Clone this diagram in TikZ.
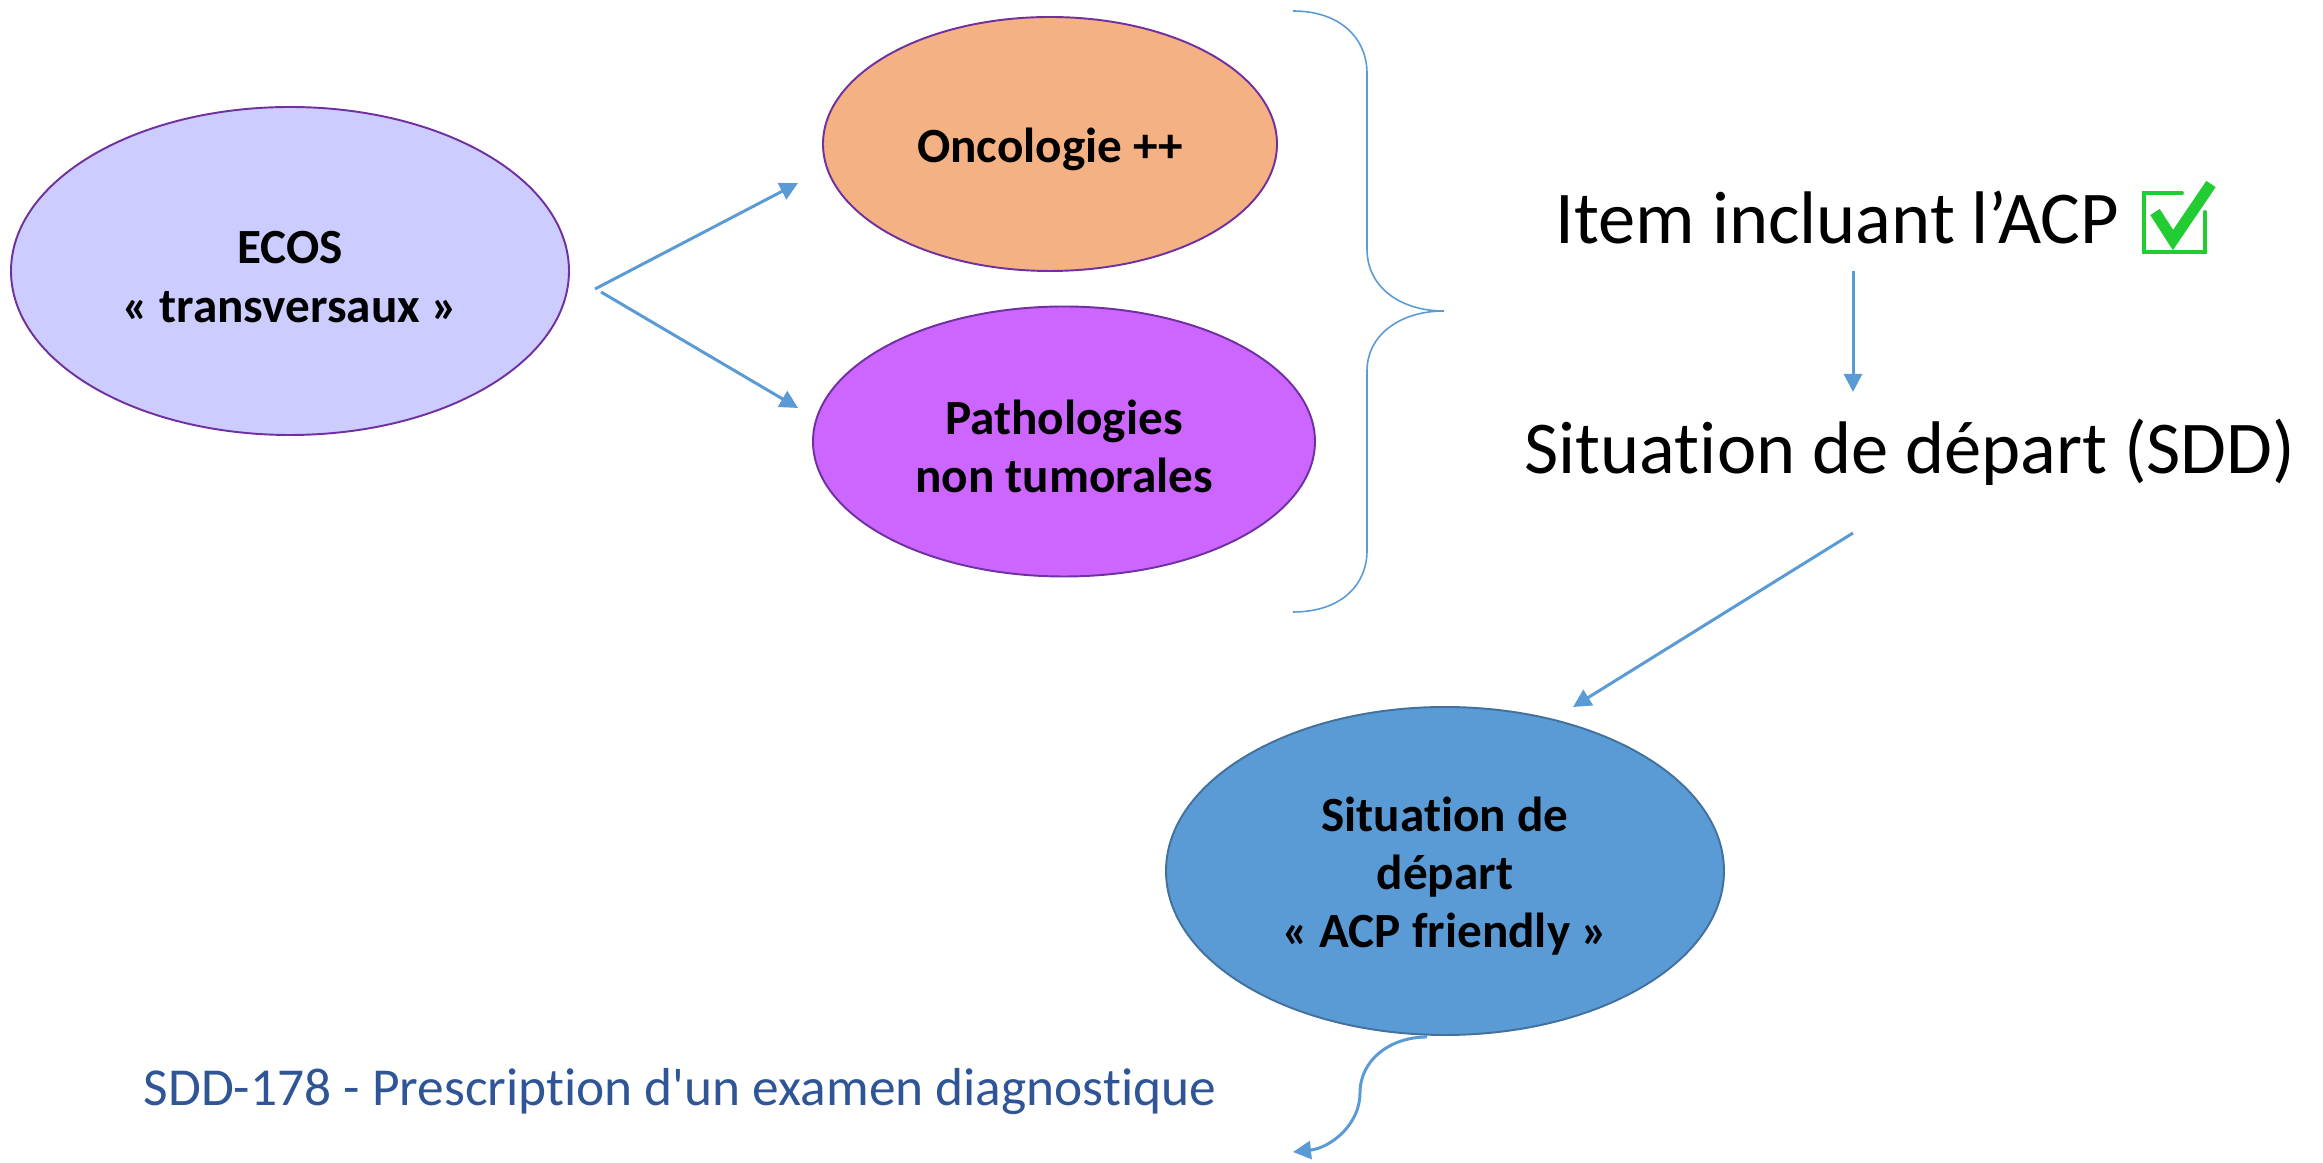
\documentclass[tikz,border=0pt]{standalone}
\usepackage{fontspec}
\setmainfont[Ligatures={NoCommon}]{Carlito}
\usetikzlibrary{shapes.geometric,arrows.meta}
\definecolor{lav}{HTML}{CCCCFF}
\definecolor{peach}{HTML}{F4B183}
\definecolor{violet}{HTML}{CC66FF}
\definecolor{purp}{HTML}{7030A0}
\definecolor{bluef}{HTML}{5B9BD5}
\definecolor{blued}{HTML}{41719C}
\definecolor{txtblue}{HTML}{2F5597}
\definecolor{chk}{HTML}{22CC33}
\newcommand{\bubstrut}{\raisebox{1mm}{\vphantom{l}}}
\tikzset{
  bubble/.style={ellipse, draw=purp, line width=0.55pt, inner sep=0pt, align=center,
    font=\bfseries\fontsize{14}{16.6}\selectfont},
  conn/.style={draw=bluef, line width=0.85pt, -{Triangle[length=1.8mm,width=1.8mm]}},
  bigtxt/.style={inner sep=0pt, font=\fontsize{21.2}{26}\selectfont},
}
\begin{document}
\begin{tikzpicture}[x=0.1mm,y=-0.1mm]
\useasboundingbox (0,0) rectangle (2323,1163);
\node[bubble, fill=lav, minimum width=55.8mm, minimum height=32.8mm] (ecos) at (290,271) {\bubstrut ECOS\\« transversaux »};
\node[bubble, fill=peach, minimum width=45.4mm, minimum height=25.4mm] (onco) at (1050,144) {\bubstrut Oncologie ++};
\node[bubble, fill=violet, minimum width=50.2mm, minimum height=27mm] (patho) at (1064,441.5) {\bubstrut Pathologies\\non tumorales};
\node[bubble, fill=bluef, draw=blued, minimum width=55.8mm, minimum height=32.8mm] (sdd) at (1445,871) {\bubstrut Situation de\\départ\\« ACP friendly »};

\node[bigtxt, anchor=west] (item) at (1555,218) {Item incluant l’ACP};
\node[bigtxt] (sit) at (1910,452) {Situation de départ (SDD)};
\node[inner sep=0pt, text=txtblue, font=\fontsize{15.2}{18}\selectfont] (ex) at (680,1092) {SDD-178 - Prescription d\textquotesingle un examen diagnostique};

% check box
\coordinate (cb) at (2144,193);
\draw[chk, line width=1.1pt, line cap=round] (2182,193) -- (cb) -- (2144,252) -- (2205,252) -- (2205,212);
\draw[chk, line width=3.2pt, line join=miter] (2155,212) -- (2173,240) -- (2211,184);

% brace
\coordinate (br0) at (1293,11);
\coordinate (br1) at (1293,612);
\coordinate (brtip) at (1444,311);
\draw[bluef, line width=0.45pt] (br0) .. controls (1342,11) and (1367,40) .. (1367,73) -- (1367,249)
  .. controls (1367,287) and (1400,311) .. (brtip)
  .. controls (1400,311) and (1367,335) .. (1367,371) -- (1367,551)
  .. controls (1367,584) and (1342,612) .. (br1);

% arrows
\coordinate (a1s) at (595,289);
\coordinate (a1e) at (798,183);
\coordinate (a2s) at (601,292);
\coordinate (a2e) at (798,408);
\draw[conn] (a1s) -- (a1e);
\draw[conn] (a2s) -- (a2e);
\coordinate (v1) at (1853,271);
\coordinate (v2) at (1853,392);
\draw[conn] (v1) -- (v2);
\coordinate (d1) at (1853,533);
\coordinate (d2) at (1573,707);
\draw[conn] (d1) -- (d2);
\coordinate (c2) at (1293,1152);
\draw[conn] (sdd.south) ++(-18,1) .. controls (1390,1037) and (1360,1060) .. (1360,1093)
  .. controls (1360,1125) and (1330,1148) .. (c2);
\end{tikzpicture}
\end{document}
